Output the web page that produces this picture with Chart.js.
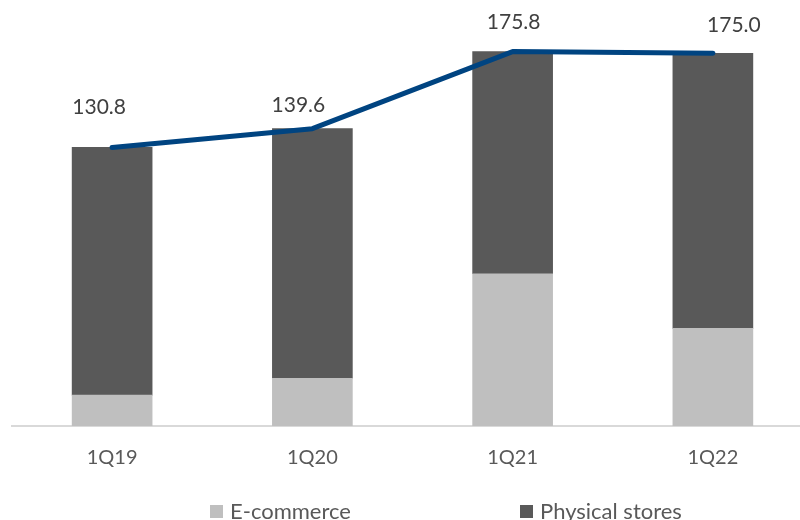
<!DOCTYPE html>
<html>
<head>
<meta charset="utf-8">
<script src="https://cdn.jsdelivr.net/npm/chart.js@4"></script>
<style>
  html, body { margin: 0; padding: 0; background: #fff; overflow: hidden; }
  #wrap { position: relative; width: 826px; height: 520px; }
  .legend { position: absolute; top: 497px; font-family: Lato, sans-serif; font-size: 22px; color: #595959; }
  .legend span.box { display: inline-block; width: 13px; height: 13px; margin-right: 7px; vertical-align: 1px; }
</style>
</head>
<body>
<div id="wrap">
  <canvas id="chart" width="826" height="520"></canvas>
  <div class="legend" style="left:210px"><span class="box" style="background:#bfbfbf"></span>E-commerce</div>
  <div class="legend" style="left:520px"><span class="box" style="background:#595959"></span>Physical stores</div>
</div>
<script>
// values
const quarters = ['1Q19', '1Q20', '1Q21', '1Q22'];
const ecommerce = [14.5, 22.4, 71.5, 45.8];
const physical = [116.3, 117.2, 104.3, 129.2];
const totals = [130.8, 139.6, 175.8, 175.0];

// label nudges (px) to sit where the original put them
const labelShift = [[-13, -40], [-14, -23], [1, -29], [21, -28]];

const totalLabels = {
  id: 'totalLabels',
  afterDatasetsDraw(chart) {
    const ctx = chart.ctx;
    const meta = chart.getDatasetMeta(2);
    ctx.save();
    ctx.font = '21px Lato, sans-serif';
    ctx.fillStyle = '#404040';
    ctx.textAlign = 'center';
    ctx.textBaseline = 'middle';
    meta.data.forEach((pt, i) => {
      ctx.fillText(totals[i].toFixed(1), pt.x + labelShift[i][0], pt.y + labelShift[i][1]);
    });
    ctx.restore();
  }
};

new Chart(document.getElementById('chart'), {
  data: {
    labels: quarters,
    datasets: [
      { type: 'bar', label: 'E-commerce', data: ecommerce, backgroundColor: '#bfbfbf', stack: 'a', order: 2, barThickness: 80 },
      { type: 'bar', label: 'Physical stores', data: physical, backgroundColor: '#595959', stack: 'a', order: 2, barThickness: 80 },
      { type: 'line', label: 'Total', data: totals, borderColor: '#004481', borderWidth: 5,
        pointRadius: 0, borderCapStyle: 'round', borderJoinStyle: 'round', tension: 0, stack: 'b', order: 0 }
    ]
  },
  options: {
    responsive: false,
    animation: false,
    layout: { padding: { left: 12, right: 13, top: 0, bottom: 0 } },
    plugins: { legend: { display: false }, tooltip: { enabled: false } },
    scales: {
      x: {
        stacked: true,
        grid: { display: false, drawTicks: false },
        border: { color: '#d9d9d9', width: 2 },
        ticks: { color: '#595959', font: { family: 'Lato', size: 20 }, padding: 20 },
        afterFit(scale) { scale.height = 94; }
      },
      y: {
        stacked: true,
        display: false,
        min: 0,
        max: 200
      }
    }
  },
  plugins: [totalLabels]
});
</script>
</body>
</html>
